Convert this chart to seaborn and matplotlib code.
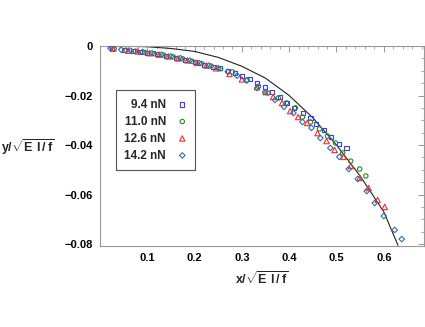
import matplotlib
matplotlib.use('Agg')
import matplotlib.pyplot as plt
from matplotlib.ticker import MultipleLocator
import seaborn as sns
import pandas as pd

sns.set_style('white')
plt.rcParams['font.family'] = ['Liberation Sans', 'DejaVu Sans']
plt.rcParams['mathtext.fontset'] = 'custom'
plt.rcParams['mathtext.bf'] = 'Liberation Sans:bold'
plt.rcParams['mathtext.rm'] = 'Liberation Sans:bold'

# theory curve
curve_x = [0.0, 0.05, 0.1, 0.15, 0.2, 0.25, 0.3, 0.35, 0.4, 0.45, 0.5, 0.55, 0.6, 0.63]
curve_y = [0.0, -0.0001, -0.0003, -0.0010, -0.0022, -0.0046, -0.0082, -0.0130,
           -0.0200, -0.0290, -0.0400, -0.0525, -0.0670, -0.0805]

# 9.4 nN
sq_x = [0.025, 0.05, 0.07, 0.085, 0.10, 0.12, 0.14, 0.16, 0.18, 0.20, 0.22, 0.24, 0.253,
        0.27, 0.285, 0.30, 0.317, 0.332, 0.348, 0.364, 0.38, 0.396, 0.41, 0.43, 0.445,
        0.457, 0.474, 0.489, 0.506, 0.521]
sq_y = [-0.0010, -0.0016, -0.0020, -0.0023, -0.0027, -0.0033, -0.0040, -0.0047, -0.0056,
        -0.0066, -0.0076, -0.0085, -0.0089, -0.0101, -0.0109, -0.0121, -0.0133, -0.0150,
        -0.0167, -0.0185, -0.0207, -0.0230, -0.0250, -0.0272, -0.0290, -0.0315, -0.0340,
        -0.0368, -0.0396, -0.0412]

# 11.0 nN
ci_x = [0.03, 0.055, 0.075, 0.095, 0.115, 0.135, 0.155, 0.175, 0.195, 0.215, 0.235, 0.255,
        0.28, 0.311, 0.335, 0.355, 0.377, 0.394, 0.413, 0.428, 0.445, 0.464, 0.481, 0.498,
        0.513, 0.53, 0.549, 0.562]
ci_y = [-0.0011, -0.0017, -0.0021, -0.0026, -0.0031, -0.0037, -0.0044, -0.0052, -0.0062,
        -0.0071, -0.0081, -0.0092, -0.0105, -0.0137, -0.0163, -0.0190, -0.0210, -0.0230,
        -0.0250, -0.0287, -0.0307, -0.0335, -0.0364, -0.0392, -0.0432, -0.0465, -0.0497,
        -0.0525]

# 12.6 nN
tr_x = [0.028, 0.06, 0.08, 0.105, 0.125, 0.145, 0.165, 0.185, 0.205, 0.225, 0.245, 0.274,
        0.30, 0.332, 0.35, 0.366, 0.385, 0.402, 0.419, 0.438, 0.46, 0.479, 0.496, 0.515,
        0.53, 0.549, 0.568, 0.587, 0.602]
tr_y = [-0.0011, -0.0019, -0.0022, -0.0029, -0.0035, -0.0042, -0.0050, -0.0058, -0.0068,
        -0.0079, -0.0090, -0.0113, -0.0135, -0.0166, -0.0186, -0.0206, -0.0230, -0.0263,
        -0.0287, -0.0311, -0.0352, -0.0384, -0.0420, -0.0448, -0.0485, -0.0533, -0.0574,
        -0.0622, -0.0650]

# 14.2 nN
di_x = [0.022, 0.045, 0.065, 0.09, 0.11, 0.13, 0.15, 0.17, 0.19, 0.21, 0.23, 0.25, 0.27,
        0.29, 0.31, 0.332, 0.349, 0.37, 0.389, 0.409, 0.428, 0.447, 0.466, 0.487, 0.506,
        0.526, 0.545, 0.564, 0.581, 0.60, 0.623, 0.638]
di_y = [-0.0009, -0.0015, -0.0019, -0.0024, -0.0029, -0.0035, -0.0042, -0.0049, -0.0059,
        -0.0069, -0.0079, -0.0090, -0.0104, -0.0120, -0.0140, -0.0170, -0.0186, -0.0218,
        -0.0246, -0.0271, -0.0307, -0.0331, -0.0372, -0.0412, -0.0448, -0.0497, -0.0537,
        -0.0586, -0.0634, -0.0687, -0.0743, -0.0780]

SERIES = [
    ('9.4 nN', sq_x, sq_y, 's', '#3b3bff', 9),
    ('11.0 nN', ci_x, ci_y, 'o', '#1f8f1f', 10),
    ('12.6 nN', tr_x, tr_y, '^', '#ff2a2a', 15),
    ('14.2 nN', di_x, di_y, 'D', '#2f6fb0', 8),
]

fig = plt.figure(figsize=(4.25, 3.27), dpi=100)
ax = fig.add_axes([100 / 425, 1 - 246 / 327, 324 / 425, 200 / 327])

sns.lineplot(x=curve_x, y=curve_y, color='#222222', linewidth=0.8, ax=ax, zorder=1)

for label, xs, ys, marker, color, size in SERIES:
    df = pd.DataFrame({'x': xs, 'y': ys})
    sns.scatterplot(data=df, x='x', y='y', marker=marker, s=size, facecolor='none',
                    edgecolor=color, linewidth=0.8, ax=ax, label=label, zorder=3)

ax.set_xlim(0, 0.685)
ax.set_ylim(-0.0808, 0.0)
ax.xaxis.set_minor_locator(MultipleLocator(0.02))
ax.yaxis.set_minor_locator(MultipleLocator(0.005))
ax.set_xticks([0.1, 0.2, 0.3, 0.4, 0.5, 0.6])
ax.set_xticklabels(['0.1', '0.2', '0.3', '0.4', '0.5', '0.6'])
ax.set_yticks([0, -0.02, -0.04, -0.06, -0.08])
ax.set_yticklabels(['0', '\u22120.02', '\u22120.04', '\u22120.06', '\u22120.08'])

ax.tick_params(which='both', direction='in', top=True, right=True, colors='#999999',
               labelcolor='black', labelsize=8)
ax.tick_params(which='major', length=4, width=0.7, pad=5)
ax.tick_params(which='minor', length=2, width=0.6)
for t in ax.get_xticklabels() + ax.get_yticklabels():
    t.set_fontweight('bold')
for spine in ax.spines.values():
    spine.set_edgecolor('#999999')
    spine.set_linewidth(0.8)

ax.set_xlabel(r'$\mathbf{x/\sqrt{E\ I\,/\,f}}$', fontsize=9, labelpad=5)
ax.set_ylabel('')
fig.text(28 / 425, 1 - 147 / 327, r'$\mathbf{y/\sqrt{E\ I\,/\,f}}$', fontsize=9,
         ha='center', va='center')

leg = ax.legend(loc='upper left', bbox_to_anchor=(0.049, 0.778), markerfirst=False,
                fancybox=False, framealpha=1, edgecolor='#555555', fontsize=8.5,
                handletextpad=1.0, borderpad=0.7, labelspacing=0.42, handlelength=0.8,
                borderaxespad=0)
leg.get_frame().set_linewidth(0.8)
for t in leg.get_texts():
    t.set_fontweight('bold')
    t.set_ha('right')

fig.savefig('out.png', dpi=100)
